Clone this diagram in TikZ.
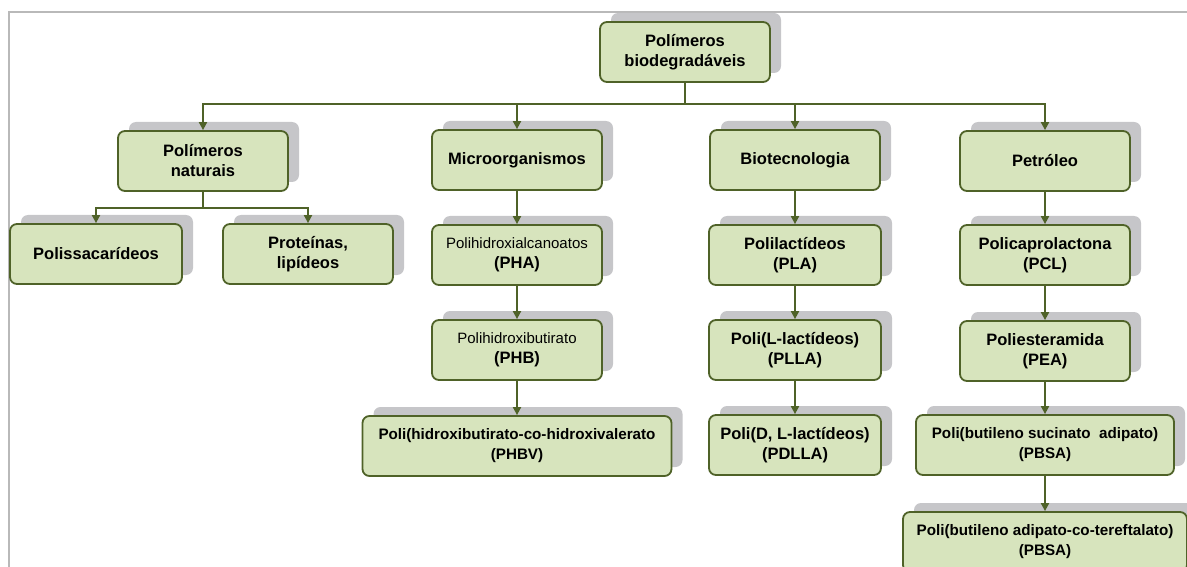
\documentclass[tikz,border=0pt]{standalone}
\usepackage{fontspec}
\setmainfont{Liberation Sans}
\usepackage{xcolor}
\usepackage{tikz}
\usetikzlibrary{arrows.meta, positioning, calc, shadows}
\definecolor{boxfill}{RGB}{215,228,189}
\definecolor{boxline}{RGB}{79,98,40}
\definecolor{shadowgray}{RGB}{198,198,201}
\definecolor{framegray}{RGB}{185,185,185}
\newcommand{\thinname}[1]{{\mdseries\fontsize{15}{18}\selectfont #1}}
\tikzset{
  polybox/.style={rectangle, draw=boxline, fill=boxfill,
    align=center, minimum width=170pt, minimum height=60pt,
    font=\fontsize{16.5}{20}\selectfont\bfseries, rounded corners=7pt, line width=1.8pt,
    drop shadow={shadow xshift=11pt, shadow yshift=9pt, fill=shadowgray, opacity=1}},
  widebox/.style={polybox, font=\fontsize{15.2}{20}\selectfont\bfseries},
  arrow/.style={-{Triangle[length=8pt, width=8pt]}, line width=1.8pt, color=boxline}
}

\begin{document}
\begin{tikzpicture}[x=1pt, y=-1pt]
  \useasboundingbox (0,0) rectangle (1187,567);
  % frame of the slide
  \draw[framegray, line width=2pt] (9,567) -- (9,12) -- (1187,12);

  % Root
  \node[polybox] (root) at (685, 52) {Polímeros\\biodegradáveis};

  % First level
  \node[polybox] (natural) at (203, 161) {Polímeros\\naturais};
  \node[polybox] (micro) at (517, 160) {Microorganismos};
  \node[polybox] (biotec) at (795, 160) {Biotecnologia};
  \node[polybox] (petro) at (1045, 161) {Petróleo};

  % Polímeros naturais
  \node[polybox, minimum width=172pt] (polis) at (96, 254) {Polissacarídeos};
  \node[polybox] (prot) at (308, 254) {Proteínas,\\lipídeos};

  % Microorganismos
  \node[polybox] (pha) at (517, 255) {\thinname{Polihidroxialcanoatos}\\(PHA)};
  \node[polybox] (phb) at (517, 350) {\thinname{Polihidroxibutirato}\\(PHB)};
  \node[widebox, minimum width=309pt] (phbv) at (517, 446) {Poli(hidroxibutirato-co-hidroxivalerato\\(PHBV)};

  % Biotecnologia
  \node[polybox, minimum width=172pt] (pla) at (795, 255) {Polilactídeos\\(PLA)};
  \node[polybox, minimum width=172pt] (plla) at (795, 350) {Poli(L-lactídeos)\\(PLLA)};
  \node[polybox, minimum width=172pt] (pdlla) at (795, 445) {Poli(D, L-lactídeos)\\(PDLLA)};

  % Petróleo
  \node[polybox] (pcl) at (1045, 255) {Policaprolactona\\(PCL)};
  \node[polybox] (pea) at (1045, 351) {Poliesteramida\\(PEA)};
  \node[widebox, minimum width=258pt] (pbsa) at (1045, 445) {Poli(butileno sucinato\ \ adipato)\\(PBSA)};
  \node[widebox, minimum width=284pt] (pbat) at (1045, 542) {Poli(butileno adipato-co-tereftalato)\\(PBSA)};

  % Bus lines
  \coordinate (bus) at (0, 104);
  \coordinate (natbus) at (0, 208);

  \draw[arrow] (root.south) |- (bus -| natural) -- (natural.north);
  \draw[arrow] (root.south) |- (bus -| micro) -- (micro.north);
  \draw[arrow] (root.south) |- (bus -| biotec) -- (biotec.north);
  \draw[arrow] (root.south) |- (bus -| petro) -- (petro.north);

  \draw[arrow] (natural.south) |- (natbus -| polis) -- (polis.north);
  \draw[arrow] (natural.south) |- (natbus -| prot) -- (prot.north);

  % Chains
  \draw[arrow] (micro) -- (pha);
  \draw[arrow] (pha) -- (phb);
  \draw[arrow] (phb) -- (phbv);
  \draw[arrow] (biotec) -- (pla);
  \draw[arrow] (pla) -- (plla);
  \draw[arrow] (plla) -- (pdlla);
  \draw[arrow] (petro) -- (pcl);
  \draw[arrow] (pcl) -- (pea);
  \draw[arrow] (pea) -- (pbsa);
  \draw[arrow] (pbsa) -- (pbat);
\end{tikzpicture}
\end{document}
